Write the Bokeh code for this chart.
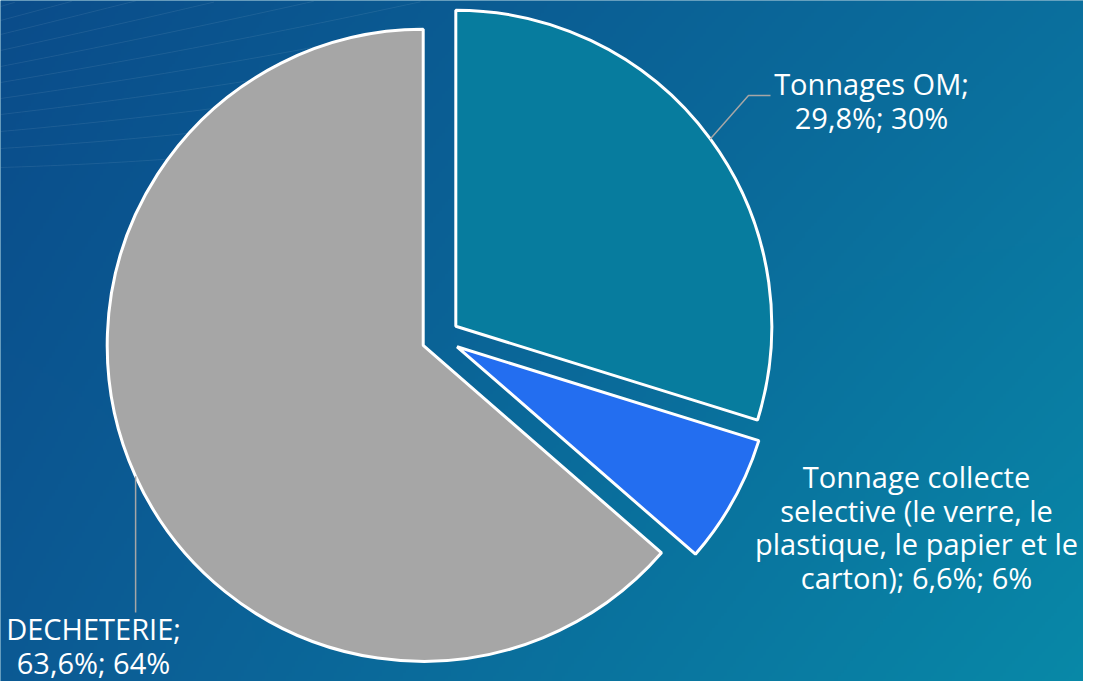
import numpy as np
from bokeh.plotting import figure
from bokeh.models import Range1d, ColumnDataSource
from bokeh.core.properties import value
from bokeh.embed import file_html
from bokeh.resources import INLINE

# ---------------- data ----------------
categories = [
    "Tonnages OM",
    "Tonnage collecte selective (le verre, le plastique, le papier et le carton)",
    "DECHETERIE",
]
shares = [29.8, 6.6, 63.6]          # percent values shown in labels
pct_labels = ["30%", "6%", "64%"]   # rounded percentages shown in labels
colors = ["#077C9E", "#236EF0", "#A6A6A6"]
words_per_line = [[2, 2], [2, 4, 5, 3], [1, 2]]

# ---------------- layout (picture pixels) ----------------
W, H = 1083, 681
center = (440.0, 337.0)
radius = 316.0
explode = 19.0
label_anchor = [(871, 83), (916, 476), (93, 628)]
line_step = 33.5
font = "Open Sans"
font_size = "29px"

p = figure(width=W, height=H, output_backend="svg", toolbar_location=None,
           x_range=Range1d(0, W), y_range=Range1d(-H, 0),
           x_axis_type=None, y_axis_type=None, min_border=0)
p.outline_line_color = None
p.grid.visible = False
p.background_fill_color = "#0A6A9A"
p.border_fill_color = "#0A6A9A"

# ---------------- gradient background ----------------
gh, gw = 227, 361
xs_pg = np.linspace(0, W, gw) / 1099.0
ys_pg = np.linspace(H, 0, gh) / 697.0   # row 0 = bottom
U, V = np.meshgrid(xs_pg, ys_pg)
TL = np.array([10, 76, 138]); TR = np.array([11, 112, 158])
BL = np.array([12, 90, 148]); BR = np.array([8, 138, 168])
rgb = (TL[None, None, :] * ((1 - U) * (1 - V))[..., None]
       + TR[None, None, :] * (U * (1 - V))[..., None]
       + BL[None, None, :] * ((1 - U) * V)[..., None]
       + BR[None, None, :] * (U * V)[..., None])
img = np.empty((gh, gw), dtype=np.uint32)
view = img.view(dtype=np.uint8).reshape((gh, gw, 4))
view[..., 0] = rgb[..., 0].astype(np.uint8)
view[..., 1] = rgb[..., 1].astype(np.uint8)
view[..., 2] = rgb[..., 2].astype(np.uint8)
view[..., 3] = 255
p.image_rgba(image=[img], x=0, y=-H, dw=W, dh=H)

# decorative faint lines top-left
for L in [6, 20, 34, 50, 66, 82, 98, 114, 131, 148, 167]:
    xx = np.linspace(0, 420, 60)
    slope = 0.30 - 0.27 * L / 167.0
    yy = L - slope * (xx) - 0.00012 * xx ** 2 * (L / 167.0)
    mask = yy > 0
    p.line(xx[mask], -yy[mask], line_color="white", line_alpha=0.08, line_width=1)

# ---------------- pie ----------------
cum = np.concatenate([[0], np.cumsum(shares)]) / sum(shares)
starts = np.radians(90 - 360 * cum[1:])
ends = np.radians(90 - 360 * cum[:-1])
mids = (starts + ends) / 2
cx = center[0] + explode * np.cos(mids)
cy = -center[1] + explode * np.sin(mids)

src = ColumnDataSource(dict(x=cx, y=cy, start=starts, end=ends, color=colors))
p.wedge(x="x", y="y", radius=radius, start_angle="start", end_angle="end",
        fill_color="color", line_color="white", line_width=3, source=src)

# ---------------- leader lines ----------------
lead_color = "#A6A6A6"
# OM
ax0 = cx[0] + radius * np.cos(mids[0]); ay0 = cy[0] + radius * np.sin(mids[0])
p.line([ax0, 748, 770], [ay0, -95, -95], line_color=lead_color, line_width=1.5)
# DECHETERIE
ax2 = cx[2] + radius * np.cos(mids[2]); ay2 = cy[2] + radius * np.sin(mids[2])
p.line([ax2, ax2], [ay2, -612], line_color=lead_color, line_width=1.5)

# ---------------- labels ----------------
tx, ty, tt = [], [], []
for i, cat in enumerate(categories):
    full = f"{cat}; {shares[i]:.1f}%; {pct_labels[i]}".replace(".", ",")
    words = full.split(" ")
    k = 0
    for j, n in enumerate(words_per_line[i]):
        tt.append(" ".join(words[k:k + n]))
        k += n
        tx.append(label_anchor[i][0])
        ty.append(-(label_anchor[i][1] + j * line_step))
p.text(x=tx, y=ty, text=tt, text_align="center", text_baseline="alphabetic",
       text_font=value(font), text_font_size=font_size, text_color="white")

open("out.html", "w").write(file_html(p, INLINE))
